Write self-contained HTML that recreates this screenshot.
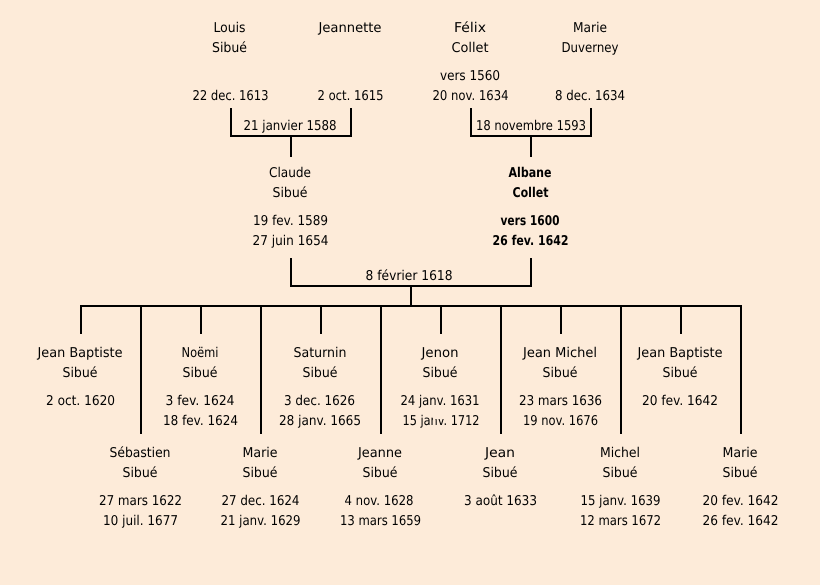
<!DOCTYPE html>
<html lang="fr">
<head>
<meta charset="utf-8">
<title>Sibué</title>
<style>
html,body{margin:0;padding:0;background:#fdebd9;}
svg{display:block;}
text{font-family:"DejaVu Sans","Liberation Sans",sans-serif;font-size:13.5px;fill:#000;text-anchor:middle;text-rendering:geometricPrecision;}
.b{font-weight:bold;fill:#000;}
</style>
</head>
<body>
<svg width="820" height="585" viewBox="0 0 820 585" xmlns="http://www.w3.org/2000/svg">
<rect width="820" height="585" fill="#fdebd9"/>
<g fill="#000">
<rect x="230" y="108" width="2" height="29"/><rect x="350" y="108" width="2" height="29"/><rect x="230" y="135" width="122" height="2"/><rect x="290" y="135" width="2" height="22"/>
<rect x="470" y="108" width="2" height="29"/><rect x="590" y="108" width="2" height="29"/><rect x="470" y="135" width="122" height="2"/><rect x="530" y="135" width="2" height="22"/>
<rect x="290" y="258" width="2" height="29"/><rect x="530" y="258" width="2" height="29"/><rect x="290" y="285" width="242" height="2"/><rect x="410" y="285" width="2" height="22"/>
<rect x="80" y="305" width="662" height="2"/>
<rect x="80" y="305" width="2" height="29"/><rect x="200" y="305" width="2" height="29"/><rect x="320" y="305" width="2" height="29"/><rect x="440" y="305" width="2" height="29"/><rect x="560" y="305" width="2" height="29"/><rect x="680" y="305" width="2" height="29"/>
<rect x="140" y="305" width="2" height="129"/><rect x="260" y="305" width="2" height="129"/><rect x="380" y="305" width="2" height="129"/><rect x="500" y="305" width="2" height="129"/><rect x="620" y="305" width="2" height="129"/><rect x="740" y="305" width="2" height="129"/>
</g>
<g>
<text x="229.500" y="32" textLength="32" lengthAdjust="spacingAndGlyphs">Louis</text>
<text x="229.500" y="52" textLength="35" lengthAdjust="spacingAndGlyphs">Sibué</text>
<text x="350" y="32" textLength="63" lengthAdjust="spacingAndGlyphs">Jeannette</text>
<text x="470" y="32" textLength="32" lengthAdjust="spacingAndGlyphs">Félix</text>
<text x="470" y="52" textLength="37" lengthAdjust="spacingAndGlyphs">Collet</text>
<text x="590" y="32" textLength="34" lengthAdjust="spacingAndGlyphs">Marie</text>
<text x="590" y="52" textLength="57" lengthAdjust="spacingAndGlyphs">Duverney</text>
<text x="470" y="80" textLength="60" lengthAdjust="spacingAndGlyphs">vers 1560</text>
<text x="230.500" y="100" textLength="76" lengthAdjust="spacingAndGlyphs">22 dec. 1613</text>
<text x="350.500" y="100" textLength="66" lengthAdjust="spacingAndGlyphs">2 oct. 1615</text>
<text x="470.500" y="100" textLength="76" lengthAdjust="spacingAndGlyphs">20 nov. 1634</text>
<text x="590" y="100" textLength="70" lengthAdjust="spacingAndGlyphs">8 dec. 1634</text>
<text x="290" y="130" textLength="93" lengthAdjust="spacingAndGlyphs">21 janvier 1588</text>
<text x="531" y="130" textLength="110" lengthAdjust="spacingAndGlyphs">18 novembre 1593</text>
<text x="290" y="177" textLength="42" lengthAdjust="spacingAndGlyphs">Claude</text>
<text x="290" y="197" textLength="35" lengthAdjust="spacingAndGlyphs">Sibué</text>
<text x="290.500" y="225" textLength="75" lengthAdjust="spacingAndGlyphs">19 fev. 1589</text>
<text x="290.500" y="245" textLength="76" lengthAdjust="spacingAndGlyphs">27 juin 1654</text>
<text class="b" x="530" y="177" textLength="43" lengthAdjust="spacingAndGlyphs">Albane</text>
<text class="b" x="530.500" y="197" textLength="36" lengthAdjust="spacingAndGlyphs">Collet</text>
<text class="b" x="530" y="225" textLength="59" lengthAdjust="spacingAndGlyphs">vers 1600</text>
<text class="b" x="530.500" y="245" textLength="76" lengthAdjust="spacingAndGlyphs">26 fev. 1642</text>
<text x="409" y="280" textLength="87" lengthAdjust="spacingAndGlyphs">8 février 1618</text>

<text x="80" y="357" textLength="85" lengthAdjust="spacingAndGlyphs">Jean Baptiste</text>
<text x="80" y="377" textLength="35" lengthAdjust="spacingAndGlyphs">Sibué</text>
<text x="80.500" y="405" textLength="69" lengthAdjust="spacingAndGlyphs">2 oct. 1620</text>

<text x="200" y="357" textLength="37" lengthAdjust="spacingAndGlyphs">Noëmi</text>
<text x="200" y="377" textLength="35" lengthAdjust="spacingAndGlyphs">Sibué</text>
<text x="200" y="405" textLength="69" lengthAdjust="spacingAndGlyphs">3 fev. 1624</text>
<text x="200.500" y="425" textLength="75" lengthAdjust="spacingAndGlyphs">18 fev. 1624</text>

<text x="320" y="357" textLength="53" lengthAdjust="spacingAndGlyphs">Saturnin</text>
<text x="320" y="377" textLength="35" lengthAdjust="spacingAndGlyphs">Sibué</text>
<text x="319.500" y="405" textLength="71" lengthAdjust="spacingAndGlyphs">3 dec. 1626</text>
<text x="320" y="425" textLength="82" lengthAdjust="spacingAndGlyphs">28 janv. 1665</text>

<text x="440" y="357" textLength="37" lengthAdjust="spacingAndGlyphs">Jenon</text>
<text x="440" y="377" textLength="35" lengthAdjust="spacingAndGlyphs">Sibué</text>
<text x="440" y="405" textLength="79" lengthAdjust="spacingAndGlyphs">24 janv. 1631</text>
<text x="441" y="425" textLength="77" lengthAdjust="spacingAndGlyphs">15 janv. 1712</text>
<rect x="433" y="411" width="19" height="8" fill="#fdebd9"/>
<rect x="446" y="419" width="6" height="8" fill="#fdebd9"/>

<text x="560" y="357" textLength="74" lengthAdjust="spacingAndGlyphs">Jean Michel</text>
<text x="560" y="377" textLength="35" lengthAdjust="spacingAndGlyphs">Sibué</text>
<text x="560.500" y="405" textLength="83" lengthAdjust="spacingAndGlyphs">23 mars 1636</text>
<text x="560.500" y="425" textLength="75" lengthAdjust="spacingAndGlyphs">19 nov. 1676</text>

<text x="680" y="357" textLength="85" lengthAdjust="spacingAndGlyphs">Jean Baptiste</text>
<text x="680" y="377" textLength="35" lengthAdjust="spacingAndGlyphs">Sibué</text>
<text x="680" y="405" textLength="76" lengthAdjust="spacingAndGlyphs">20 fev. 1642</text>

<text x="140" y="457" textLength="61" lengthAdjust="spacingAndGlyphs">Sébastien</text>
<text x="140" y="477" textLength="35" lengthAdjust="spacingAndGlyphs">Sibué</text>
<text x="140.500" y="505" textLength="83" lengthAdjust="spacingAndGlyphs">27 mars 1622</text>
<text x="140.500" y="525" textLength="75" lengthAdjust="spacingAndGlyphs">10 juil. 1677</text>

<text x="260" y="457" textLength="35" lengthAdjust="spacingAndGlyphs">Marie</text>
<text x="260" y="477" textLength="35" lengthAdjust="spacingAndGlyphs">Sibué</text>
<text x="260.500" y="505" textLength="78" lengthAdjust="spacingAndGlyphs">27 dec. 1624</text>
<text x="260.500" y="525" textLength="80" lengthAdjust="spacingAndGlyphs">21 janv. 1629</text>

<text x="380" y="457" textLength="44" lengthAdjust="spacingAndGlyphs">Jeanne</text>
<text x="380" y="477" textLength="35" lengthAdjust="spacingAndGlyphs">Sibué</text>
<text x="379" y="505" textLength="69" lengthAdjust="spacingAndGlyphs">4 nov. 1628</text>
<text x="380.500" y="525" textLength="81" lengthAdjust="spacingAndGlyphs">13 mars 1659</text>

<text x="500" y="457" textLength="30" lengthAdjust="spacingAndGlyphs">Jean</text>
<text x="500" y="477" textLength="35" lengthAdjust="spacingAndGlyphs">Sibué</text>
<text x="500.500" y="505" textLength="73" lengthAdjust="spacingAndGlyphs">3 août 1633</text>

<text x="620" y="457" textLength="40" lengthAdjust="spacingAndGlyphs">Michel</text>
<text x="620" y="477" textLength="35" lengthAdjust="spacingAndGlyphs">Sibué</text>
<text x="620.500" y="505" textLength="80" lengthAdjust="spacingAndGlyphs">15 janv. 1639</text>
<text x="620.500" y="525" textLength="81" lengthAdjust="spacingAndGlyphs">12 mars 1672</text>

<text x="740" y="457" textLength="35" lengthAdjust="spacingAndGlyphs">Marie</text>
<text x="740" y="477" textLength="35" lengthAdjust="spacingAndGlyphs">Sibué</text>
<text x="740.500" y="505" textLength="76" lengthAdjust="spacingAndGlyphs">20 fev. 1642</text>
<text x="740.500" y="525" textLength="76" lengthAdjust="spacingAndGlyphs">26 fev. 1642</text>
</g>
</svg>
</body>
</html>
